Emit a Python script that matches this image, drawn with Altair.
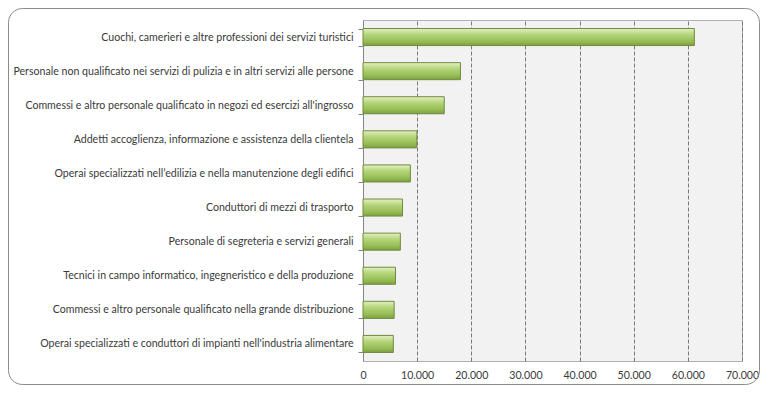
import altair as alt
import pandas as pd

categories = [
    "Cuochi, camerieri e altre professioni dei servizi turistici",
    "Personale non qualificato nei servizi di pulizia e in altri servizi alle persone",
    "Commessi e altro personale qualificato in negozi ed esercizi all'ingrosso",
    "Addetti accoglienza, informazione e assistenza della clientela",
    "Operai specializzati nell\u2019edilizia e nella manutenzione degli edifici",
    "Conduttori di mezzi di trasporto",
    "Personale di segreteria e servizi generali",
    "Tecnici in campo informatico, ingegneristico e della produzione",
    "Commessi e altro personale qualificato nella grande distribuzione",
    "Operai specializzati e conduttori di impianti nell'industria alimentare",
]
values = [61200, 18000, 15000, 9950, 8750, 7300, 6900, 6000, 5750, 5600]
x_ticks = [0, 10000, 20000, 30000, 40000, 50000, 60000, 70000]

df = pd.DataFrame({"cat": categories, "val": values})

W, H = 379, 341
PL, PT, PR, PB = 355, 12, 18, 24

green = alt.Gradient(
    gradient="linear",
    x1=0, y1=0, x2=0, y2=1,
    stops=[
        alt.GradientStop(color="#e4f0c4", offset=0),
        alt.GradientStop(color="#b5d57a", offset=0.35),
        alt.GradientStop(color="#97bd55", offset=0.75),
        alt.GradientStop(color="#7d9e44", offset=1),
    ],
)

bars = alt.Chart(df).mark_bar(
    fill=green, stroke="#6f8c3c", strokeWidth=1
).encode(
    y=alt.Y("cat:N", sort=categories, title=None,
            scale=alt.Scale(paddingInner=0.5, paddingOuter=0.25),
            axis=alt.Axis(tickBand="extent", tickSize=5, tickColor="#868686",
                          domainColor="#868686", labelPadding=5, labelLimit=400,
                          labelFont="Lato", labelFontSize=10.6, labelColor="#3a3a3a",
                          grid=False)),
    x=alt.X("val:Q", title=None,
            scale=alt.Scale(domain=[0, 70000], nice=False),
            axis=alt.Axis(values=x_ticks, domain=False, ticks=False, labelFlush=False,
                          labelExpr="replace(format(datum.value, ','), ',', '.')",
                          labelFont="Lato", labelFontSize=10.6, labelColor="#3a3a3a",
                          labelPadding=9, grid=True, gridColor="#7a7a7a",
                          gridDash=[4, 2], gridWidth=1)),
)

frame = alt.Chart(alt.Data(values=[{}])).mark_rect(
    fill=None, stroke="#8c8c8c", strokeWidth=1, cornerRadius=14
).encode(
    x=alt.value(-PL + 0.5), x2=alt.value(W + PR - 0.5),
    y=alt.value(-PT + 0.5), y2=alt.value(H + PB - 0.5),
)

chart = alt.layer(bars, frame).properties(
    width=W, height=H,
    autosize=alt.AutoSizeParams(type="none"),
    padding={"left": PL, "top": PT, "right": PR, "bottom": PB},
    background="white",
).configure_view(fill="#f2f2f2", stroke="#b0b0b0")

chart.save("out.html", embed_options={"renderer": "svg", "actions": False})
